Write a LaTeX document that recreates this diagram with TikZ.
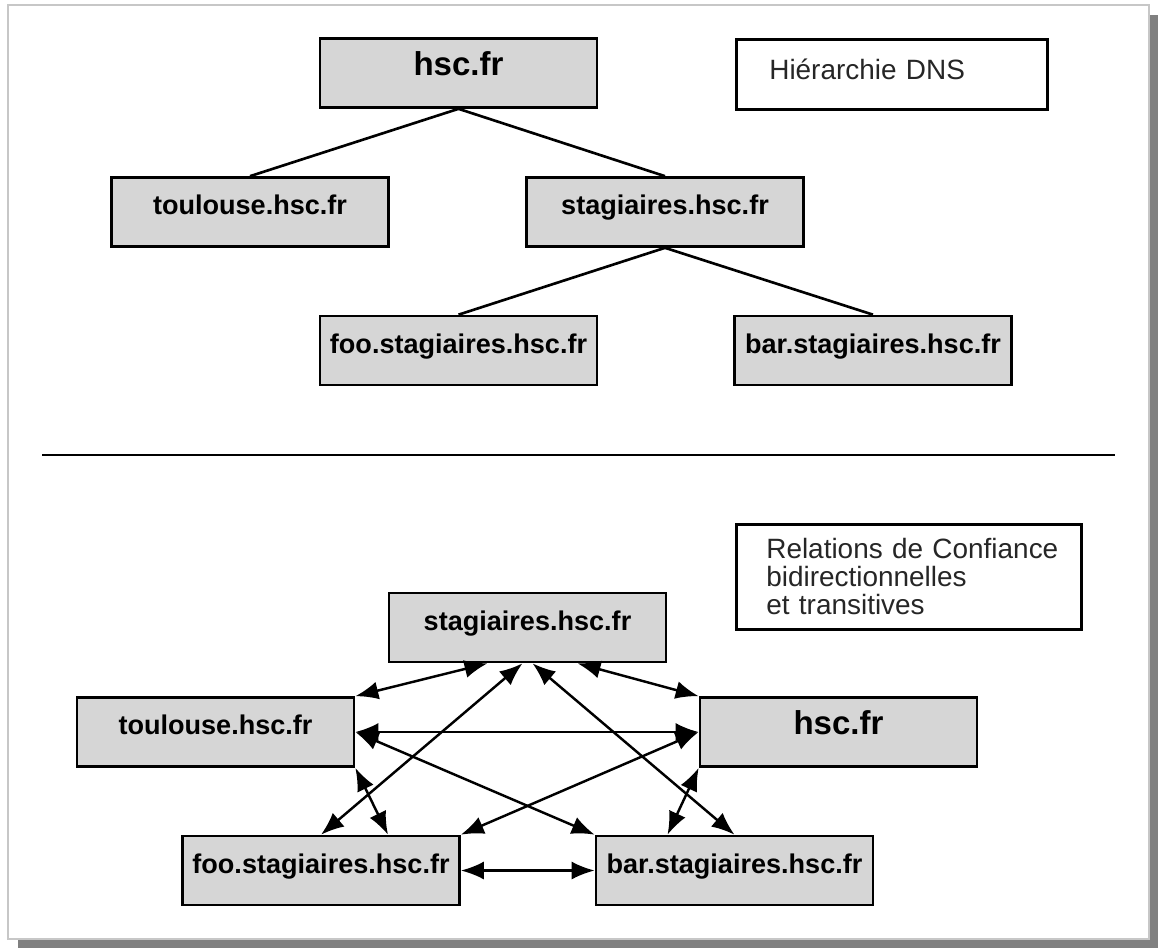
\documentclass[tikz,border=0pt]{standalone}
\usepackage{fontspec}
\setmainfont{Liberation Sans}
\usetikzlibrary{arrows.meta}

\begin{document}
\begin{tikzpicture}
\tikzstyle{zonebox}=[draw, rectangle, line width=1.5pt, minimum width=5.54cm, inner ysep=0pt, text height=0.74cm, text depth=0.64cm, fill=black!16, font=\fontsize{15.4pt}{18pt}\bfseries, text centered]
\tikzstyle{rootbox}=[font=\fontsize{18.8pt}{22pt}\bfseries]
\tikzstyle{infobox}=[draw, rectangle, line width=1.5pt, anchor=north west, align=left, text=black!85, font=\fontsize{15.9pt}{15.9pt}\selectfont]
\tikzstyle{line}=[draw, line width=1.5pt]
\tikzstyle{trust}=[draw, line width=1.4pt, {Latex[length=0.46cm,width=0.36cm]}-{Latex[length=0.46cm,width=0.36cm]}]

% Page frame with shadow
\useasboundingbox (0,0) rectangle (23.16,-18.96);
\fill[black!50] (0.36,-0.30) rectangle (23.16,-18.96);
\draw[black!22, line width=1.1pt, fill=white] (0.16,-0.10) rectangle (22.98,-18.78);

% DNS hierarchy
\node[zonebox, rootbox] (dnsroot) at (9.17,-1.46) {hsc.fr};
\node[zonebox] (dnstls) at (5.00,-4.24) {toulouse.hsc.fr};
\node[zonebox] (dnsst) at (13.30,-4.24) {stagiaires.hsc.fr};
\node[zonebox] (dnsfoo) at (9.17,-7.01) {foo.stagiaires.hsc.fr};
\node[zonebox] (dnsbar) at (17.46,-7.01) {bar.stagiaires.hsc.fr};
\node[infobox, inner xsep=0.66cm, text width=4.9cm, inner ysep=0pt, text height=0.8cm, text depth=0.6cm] (dnstitle) at (14.70,-0.76) {Hiérarchie DNS};

\draw[line] (dnsroot.south) -- (dnstls.north);
\draw[line] (dnsroot.south) -- (dnsst.north);
\draw[line] (dnsst.south) -- (dnsfoo.north);
\draw[line] (dnsst.south) -- (dnsbar.north);

% Separator
\draw[line] (0.84,-9.10) -- (22.30,-9.10);

% Trust relations
\node[zonebox] (st) at (10.55,-12.55) {stagiaires.hsc.fr};
\node[zonebox] (tl) at (4.31,-14.64) {toulouse.hsc.fr};
\node[zonebox, rootbox] (hs) at (16.77,-14.64) {hsc.fr};
\node[zonebox] (fo) at (6.42,-17.41) {foo.stagiaires.hsc.fr};
\node[zonebox] (ba) at (14.69,-17.41) {bar.stagiaires.hsc.fr};
\node[infobox, inner xsep=0.6cm, text width=5.7cm, minimum height=2.1cm] (trusttitle) at (14.70,-10.46) {\mbox{Relations de Confiance}\\bidirectionnelles\\et transitives};

\draw[trust] (tl.north east) -- ([xshift=-0.8cm]st.south);
\draw[trust] ([xshift=1cm]st.south) -- (hs.north west);
\draw[trust] (tl.east) -- (hs.west);
\draw[trust] (tl.east) -- (ba.north west);
\draw[trust] ([xshift=-0.1cm]st.south) -- (fo.north);
\draw[trust] ([xshift=0.1cm]st.south) -- (ba.north);
\draw[trust] (hs.west) -- (fo.north east);
\draw[trust] (tl.south east) -- ([xshift=1.34cm]fo.north);
\draw[trust] (hs.south west) -- ([xshift=-1.34cm]ba.north);
\draw[trust] (fo.east) -- (ba.west);
\end{tikzpicture}
\end{document}
